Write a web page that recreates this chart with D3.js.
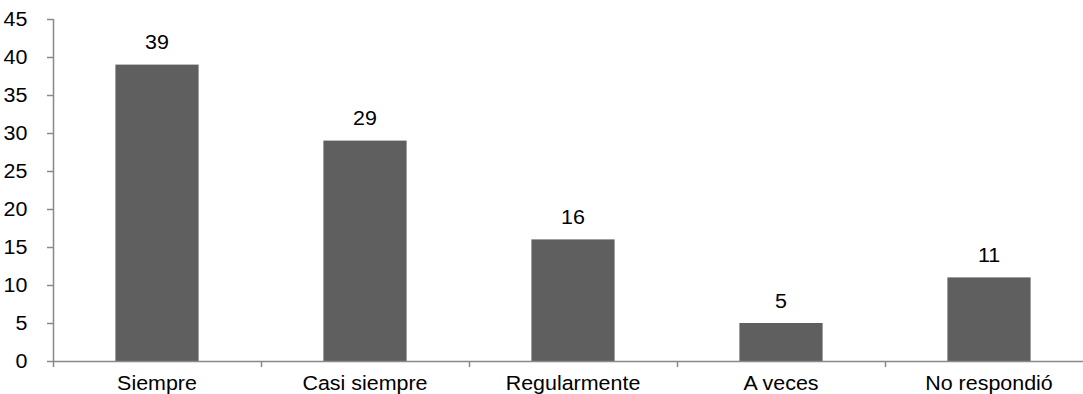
<!DOCTYPE html>
<html><head><meta charset="utf-8">
<script src="https://cdn.jsdelivr.net/npm/d3@7"></script>
<style>body{margin:0;background:#fff;overflow:hidden}</style>
</head><body><svg id="c" width="1083" height="394"></svg>
<script>
const categories = ["Siempre","Casi siempre","Regularmente","A veces","No respondió"];
const values = [39,29,16,5,11];
const yTicks = [0,5,10,15,20,25,30,35,40,45];

const svg = d3.select("#c");
const font = "'Liberation Sans', Arial, sans-serif";
const fs = 19.5, sx = 1.1;
const mLeft = 53, mRight = 1093, mTop = 19, mBottom = 361;
const x = d3.scaleBand().domain(categories).range([mLeft, mRight]).paddingInner(0).paddingOuter(0);
const y = d3.scaleLinear().domain([0,45]).range([mBottom, mTop]);
const axisColor = "#898989";

svg.selectAll("rect.bar").data(values).enter().append("rect")
  .attr("x", (d,i)=> x(categories[i]) + x.bandwidth()*0.3)
  .attr("width", x.bandwidth()*0.4)
  .attr("y", d=>y(d)).attr("height", d=>y(0)-y(d))
  .attr("fill","#5f5f5f");

svg.selectAll("text.val").data(values).enter().append("text")
  .attr("transform",(d,i)=>`translate(${x(categories[i]) + x.bandwidth()/2},${y(d)-15.5}) scale(${sx},1)`)
  .attr("text-anchor","middle")
  .attr("font-family",font).attr("font-size",fs).attr("fill","#000")
  .text(d=>d);

// y axis
const ya = svg.append("g").attr("transform",`translate(${mLeft},0)`)
  .call(d3.axisLeft(y).tickValues(yTicks).tickSize(6).tickPadding(19/sx));
ya.select(".domain").attr("stroke",axisColor).attr("stroke-width",1.5).attr("d",`M0.5,${mTop}V${mBottom}`);
ya.selectAll(".tick line").attr("stroke",axisColor).attr("stroke-width",1.5);
ya.selectAll(".tick text").attr("font-family",font).attr("font-size",fs).attr("fill","#000")
  .attr("transform",`scale(${sx},1)`);

// x axis
const xa = svg.append("g").attr("transform",`translate(0,${mBottom})`)
  .call(d3.axisBottom(x).tickSize(0).tickPadding(15));
xa.select(".domain").attr("stroke",axisColor).attr("stroke-width",1.5).attr("d",`M${mLeft},0.5H${mRight}`);
xa.selectAll(".tick text").attr("font-family",font).attr("font-size",fs).attr("fill","#000")
  .attr("transform",`scale(${sx},1)`);
const bounds = categories.map(c=>x(c));
xa.selectAll("line.b").data(bounds).enter().append("line")
  .attr("x1",d=>d+0.5).attr("x2",d=>d+0.5).attr("y1",0).attr("y2",6)
  .attr("stroke",axisColor).attr("stroke-width",1.5);
</script></body></html>
